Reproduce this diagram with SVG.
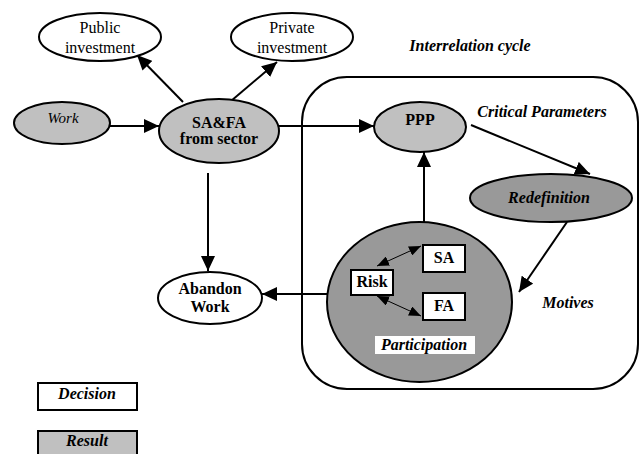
<svg xmlns="http://www.w3.org/2000/svg" width="640" height="454" viewBox="0 0 640 454">
<defs>
<marker id="ah" markerUnits="userSpaceOnUse" markerWidth="15" markerHeight="14" viewBox="0 0 15 14" refX="15" refY="7" orient="auto"><path d="M0,0 L15,7 L0,14 Z" fill="#000"/></marker>
<marker id="sh" markerUnits="userSpaceOnUse" markerWidth="12" markerHeight="10" viewBox="0 0 12 10" refX="12" refY="5" orient="auto-start-reverse"><path d="M0,0 L12,5 L0,10 Z" fill="#000"/></marker>
<style>
text{font-family:"Liberation Serif","Times New Roman",serif;font-size:16px;text-anchor:middle;fill:#000}
.b{font-weight:bold}
.bi{font-weight:bold;font-style:italic}
.i{font-style:italic}
.w{fill:#fff;stroke:#000;stroke-width:2}
.g{fill:#c0c0c0;stroke:#000;stroke-width:2}
.d{fill:#999;stroke:#000;stroke-width:2}
.c{stroke:#000;stroke-width:2;fill:none;marker-end:url(#ah)}
.t{stroke:#000;stroke-width:1;fill:none;marker-start:url(#sh);marker-end:url(#sh)}
</style>
</defs>
<g id="cycle-frame">
<rect x="302" y="77" width="336" height="312" rx="45" ry="45" fill="none" stroke="#000" stroke-width="2"/>
<text x="470" y="51" class="bi">Interrelation cycle</text>
<text x="542" y="117" class="bi">Critical Parameters</text>
<text x="568" y="308" class="bi">Motives</text>
</g>
<g id="connectors">
<line x1="110" y1="126" x2="159" y2="126" class="c"/>
<line x1="183" y1="102" x2="137" y2="55" class="c"/>
<line x1="231" y1="101" x2="277" y2="62" class="c"/>
<line x1="279" y1="126" x2="374" y2="126" class="c"/>
<line x1="208" y1="173" x2="208" y2="271" class="c"/>
<line x1="327" y1="294" x2="262" y2="294" class="c"/>
<line x1="424" y1="222" x2="424" y2="152" class="c"/>
<line x1="471" y1="125" x2="590" y2="174" class="c"/>
<line x1="567" y1="222" x2="519" y2="292" class="c"/>
</g>
<g id="public"><ellipse cx="100" cy="37" rx="61" ry="24" class="w"/><text x="100" y="33">Public</text><text x="100" y="53">investment</text></g>
<g id="private"><ellipse cx="292" cy="37" rx="61" ry="24" class="w"/><text x="292" y="33">Private</text><text x="292" y="53">investment</text></g>
<g id="work"><ellipse cx="62" cy="123" rx="48" ry="21" class="g"/><text x="63" y="123" class="i" style="font-size:15px">Work</text></g>
<g id="safa"><ellipse cx="219" cy="131" rx="60" ry="32" class="g"/><text x="219" y="128" class="b">SA&amp;FA</text><text x="219" y="144" class="b">from sector</text></g>
<g id="ppp"><ellipse cx="420" cy="127" rx="46" ry="25" class="g"/><text x="420" y="125" class="b">PPP</text></g>
<g id="redefinition"><ellipse cx="551" cy="198" rx="81" ry="24" class="d"/><text x="549" y="203" class="bi">Redefinition</text></g>
<g id="abandon"><ellipse cx="210" cy="298" rx="52" ry="26" class="w"/><text x="210" y="294" class="b">Abandon</text><text x="210" y="312" class="b">Work</text></g>
<g id="participation">
<ellipse cx="419.5" cy="302" rx="92.5" ry="80" class="d"/>
<rect x="375" y="336" width="100" height="18" fill="#fff"/>
<text x="424" y="350" class="bi">Participation</text>
</g>
<g id="inner-connectors">
<line x1="377" y1="266" x2="421" y2="246" class="t"/>
<line x1="377" y1="296" x2="421" y2="316" class="t"/>
</g>
<g id="risk"><rect x="351" y="270" width="42" height="25" class="w"/><text x="372" y="287" class="b">Risk</text></g>
<g id="sa"><rect x="423" y="245" width="42" height="27" class="w"/><text x="444" y="263" class="b">SA</text></g>
<g id="fa"><rect x="423" y="293" width="42" height="27" class="w"/><text x="444" y="311" class="b">FA</text></g>
<g id="legend-decision"><rect x="38" y="383" width="99" height="27" class="w"/><text x="87" y="399" class="bi">Decision</text></g>
<g id="legend-result"><rect x="38" y="431" width="99" height="27" class="g"/><text x="87" y="446" class="bi">Result</text></g>
</svg>
